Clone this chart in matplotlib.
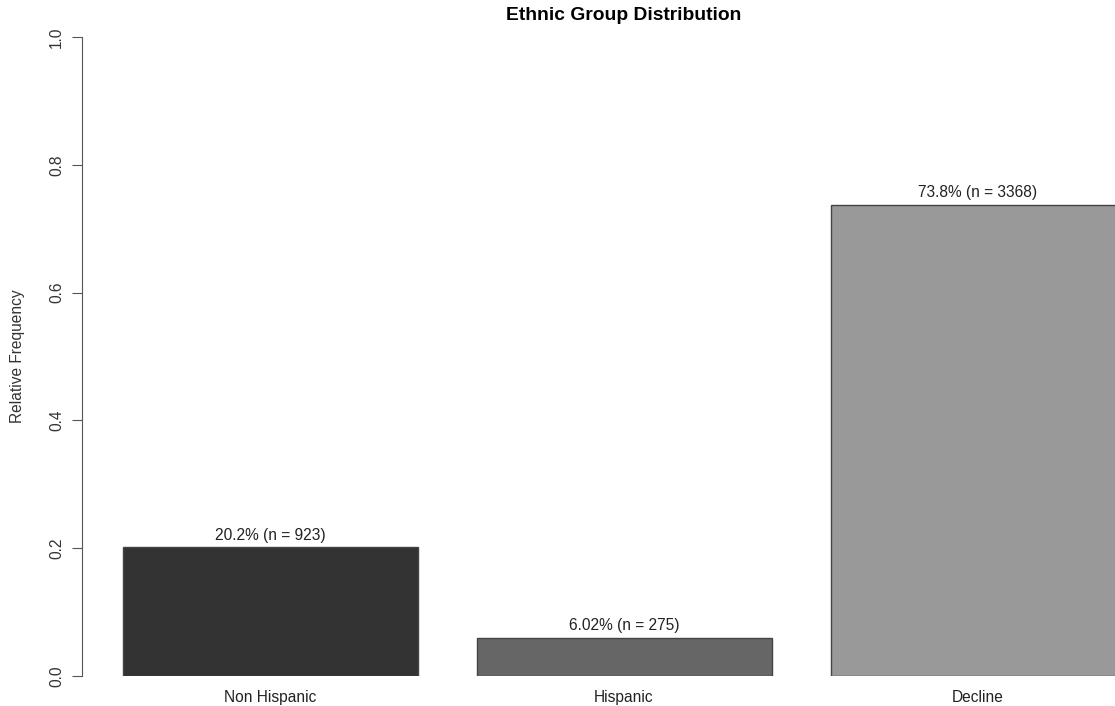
import matplotlib
matplotlib.use("Agg")
import matplotlib.pyplot as plt

categories = ["Non Hispanic", "Hispanic", "Decline"]
counts = [923, 275, 3368]
labels = ["20.2% (n = 923)", "6.02% (n = 275)", "73.8% (n = 3368)"]
colors = ["#333333", "#666666", "#999999"]
yticks = [0.0, 0.2, 0.4, 0.6, 0.8, 1.0]

total = sum(counts)
freqs = [c / total for c in counts]

plt.rcParams['font.family'] = ['Liberation Sans', 'DejaVu Sans']

W, H = 1115, 706
fig = plt.figure(figsize=(W / 100, H / 100), dpi=100)
left_px, right_px = 82.4, 1115
top_px, bottom_px = 37, 676
ax = fig.add_axes([left_px / W, (H - bottom_px) / H, (right_px - left_px) / W, (bottom_px - top_px) / H])

FS = 11.2
unit = 295.0
xs = [0.7, 1.9, 3.1]
ax.bar(xs, freqs, width=1.0, color=colors, edgecolor="#444444", linewidth=1.0)
ax.set_xlim(0.064, 0.064 + (right_px - left_px) / unit)
ax.set_ylim(0, 1)

for x, f, lab in zip(xs, freqs, labels):
    ax.annotate(lab, (x, f), xytext=(0, 3), textcoords="offset points",
                ha="center", va="bottom", fontsize=FS, color="#222222")

for s in ["top", "right", "bottom"]:
    ax.spines[s].set_visible(False)
ax.spines["left"].set_color("#555555")
ax.set_yticks(yticks)
ax.set_yticklabels([f"{t:.1f}" for t in yticks], rotation=90, va="center", fontsize=FS, color="#333333")
ax.tick_params(axis="y", length=7, color="#555555", pad=6)
ax.set_xticks(xs)
ax.set_xticklabels(categories, fontsize=FS, color="#222222")
ax.tick_params(axis="x", length=0, pad=10)
ax.set_ylabel("Relative Frequency", fontsize=FS, color="#333333")
ax.yaxis.set_label_coords(-(82.4 - 18) / (right_px - left_px), 0.5)
ax.yaxis.label.set_va("center")

fig.text(624 / W, 1 - 15 / H, "Ethnic Group Distribution", ha="center", va="center",
         fontsize=13.9, fontweight="bold")

fig.savefig("out.png", dpi=100)
